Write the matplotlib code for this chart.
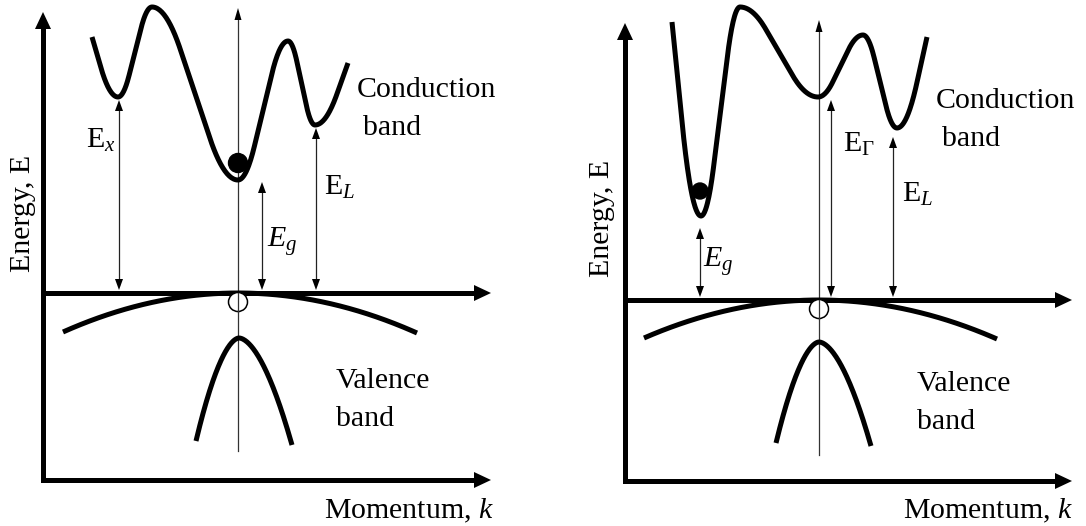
import numpy as np
import matplotlib.pyplot as plt
from matplotlib.patches import Circle, Polygon

plt.rcParams['font.family'] = ['Liberation Serif', 'DejaVu Serif']
plt.rcParams['mathtext.fontset'] = 'custom'
plt.rcParams['mathtext.rm'] = 'Liberation Serif'
plt.rcParams['mathtext.it'] = 'Liberation Serif:italic'

W, H = 1086, 526

# band turning points, drawing frame (pixels, y grows downward)
# left: direct gap, right: indirect gap
direct_cb_k = [92, 118, 152, 238, 288, 315, 348]
direct_cb_E = [37, 97, 7, 180, 41, 125, 63]
indirect_cb_k = [672, 701, 740, 818, 863, 897, 927]
indirect_cb_E = [22, 216, 7, 97, 35, 128, 37]

# valence bands: left end, top, right end
direct_lh_k = [63, 238, 417]
direct_lh_E = [332, 293, 333]
direct_hh_k = [196, 239, 292]
direct_hh_E = [441, 338, 445]
indirect_lh_k = [644, 819, 997]
indirect_lh_E = [338, 300, 339]
indirect_hh_k = [776, 819, 871]
indirect_hh_E = [443, 342, 446]

# gap arrows: x, top, bottom
direct_gaps = [(119, 100, 290), (262, 182, 290), (316, 128, 290)]
direct_gap_labels = ['E$_x$', '$E_g$', 'E$_L$']
indirect_gaps = [(700, 228, 297), (831, 100, 297), (893, 137, 297)]
indirect_gap_labels = ['$E_g$', 'E$_\\Gamma$', 'E$_L$']

THICK = 3.6
THIN = 0.9
FS = 21.5


def ease(t, r=0.33):
    # linear ramp with rounded (quadratic) ends
    t = np.asarray(t, dtype=float)
    a = 1.0 / (2 * r * (1 - r))
    s = np.where(t < r, a * t ** 2,
                 np.where(t > 1 - r, 1 - a * (1 - t) ** 2,
                          a * r ** 2 + (t - r) / (1 - r)))
    return s


def band_curve(ks, Es, n=80):
    xs, ys = [], []
    last = len(ks) - 2
    for i in range(len(ks) - 1):
        t = np.linspace(0, 1, n)
        if i == 0:
            s = (ease(0.5 + 0.5 * t) - 0.5) / 0.5
        elif i == last:
            s = ease(0.5 * t) / 0.5
        else:
            s = ease(t)
        xs.append(ks[i] + (ks[i + 1] - ks[i]) * t)
        ys.append(Es[i] + (Es[i + 1] - Es[i]) * s)
    return np.concatenate(xs), np.concatenate(ys)


def cap_curve(ks, Es, p, n=80):
    xl = np.linspace(ks[0], ks[1], n)
    yl = Es[1] + (Es[0] - Es[1]) * ((ks[1] - xl) / (ks[1] - ks[0])) ** p
    xr = np.linspace(ks[1], ks[2], n)
    yr = Es[1] + (Es[2] - Es[1]) * ((xr - ks[1]) / (ks[2] - ks[1])) ** p
    return np.concatenate([xl, xr]), np.concatenate([yl, yr])


def head(ax, tip, direction, length, width, z=3):
    d = np.array(direction, dtype=float)
    d /= np.hypot(*d)
    nrm = np.array([-d[1], d[0]])
    tip = np.array(tip, dtype=float)
    base = tip - d * length
    pts = [tip, base + nrm * width / 2, base - nrm * width / 2]
    ax.add_patch(Polygon(pts, closed=True, color='black', lw=0, zorder=z))


def thick_arrow(ax, x0, y0, x1, y1):
    d = np.array([x1 - x0, y1 - y0], dtype=float)
    u = d / np.hypot(*d)
    ex, ey = np.array([x1, y1]) - u * 10
    ax.plot([x0, ex], [y0, ey], color='black', lw=THICK,
            solid_capstyle='projecting', zorder=3)
    head(ax, (x1, y1), u, 17, 16, z=4)


def gap_arrow(ax, x, top, bottom):
    ax.plot([x, x], [top + 5, bottom - 5], color='#222222', lw=THIN, zorder=2)
    head(ax, (x, top), (0, -1), 11, 8)
    head(ax, (x, bottom), (0, 1), 11, 8)


def panel(ax, x0, base_y, axis_top, axis_right, center_x, center_top, center_bottom,
          cb_k, cb_E, lh_k, lh_E, hh_k, hh_E, gaps, labels, label_pos,
          dot, hole, text_pos):
    # axes and valence band edge
    thick_arrow(ax, x0, base_y, x0, axis_top)
    thick_arrow(ax, x0, base_y, axis_right, base_y)
    thick_arrow(ax, x0, lh_E[1], axis_right, lh_E[1])

    # k = 0 line
    ax.plot([center_x, center_x], [center_bottom, center_top + 6],
            color='#333333', lw=THIN, zorder=2)
    head(ax, (center_x, center_top), (0, -1), 12, 7)

    # electron in the lowest conduction valley
    ax.add_patch(Circle(dot[:2], dot[2], color='black', zorder=2))
    x, y = band_curve(cb_k, cb_E)
    ax.plot(x, y, color='black', lw=THICK, solid_capstyle='butt', zorder=3)

    x, y = cap_curve(lh_k, lh_E, 2.0)
    ax.plot(x, y, color='black', lw=THICK, solid_capstyle='butt', zorder=3)
    x, y = cap_curve(hh_k, hh_E, 1.75)
    ax.plot(x, y, color='black', lw=THICK, solid_capstyle='butt', zorder=3)

    # hole at the valence band top
    ax.add_patch(Circle(hole[:2], hole[2], facecolor='white', edgecolor='black',
                        lw=1.1, zorder=4))
    ax.plot([center_x, center_x], [hole[1] - hole[2], hole[1] + hole[2]],
            color='#333333', lw=THIN, zorder=5)

    for (gx, gt, gb), lab, (lx, ly) in zip(gaps, labels, label_pos):
        gap_arrow(ax, gx, gt, gb)
        ax.text(lx, ly, lab, fontsize=FS, ha='left', va='baseline')

    (cx, cy), (vx, vy), (ex_, ey_), (mx, my) = text_pos
    ax.text(cx, cy, 'Conduction', fontsize=FS, ha='left', va='baseline')
    ax.text(cx + 6, cy + 38, 'band', fontsize=FS, ha='left', va='baseline')
    ax.text(vx, vy, 'Valence', fontsize=FS, ha='left', va='baseline')
    ax.text(vx, vy + 38, 'band', fontsize=FS, ha='left', va='baseline')
    ax.text(ex_, ey_, 'Energy, E', fontsize=FS, rotation=90,
            ha='center', va='center')
    ax.text(mx, my, 'Momentum, $k$', fontsize=FS, ha='left', va='baseline')


fig = plt.figure(figsize=(W / 100, H / 100), dpi=100)
ax = fig.add_axes([0, 0, 1, 1])
ax.set_xlim(0, W)
ax.set_ylim(H, 0)
ax.axis('off')

panel(ax, 43, 480, 12, 491, 238, 8, 451,
      direct_cb_k, direct_cb_E, direct_lh_k, direct_lh_E,
      direct_hh_k, direct_hh_E, direct_gaps, direct_gap_labels,
      [(86, 148), (267, 247), (324, 195)],
      (238, 163, 9.5), (238, 302, 9.5),
      [(357, 97), (336, 388), (23, 213), (324, 518)])

panel(ax, 625, 481, 23, 1072, 819, 20, 455,
      indirect_cb_k, indirect_cb_E, indirect_lh_k, indirect_lh_E,
      indirect_hh_k, indirect_hh_E, indirect_gaps, indirect_gap_labels,
      [(703, 267), (843, 152), (902, 202)],
      (700, 191, 8), (819, 309, 9.5),
      [(936, 108), (917, 391), (602, 218), (903, 518)])

fig.savefig('out.png', dpi=100)
